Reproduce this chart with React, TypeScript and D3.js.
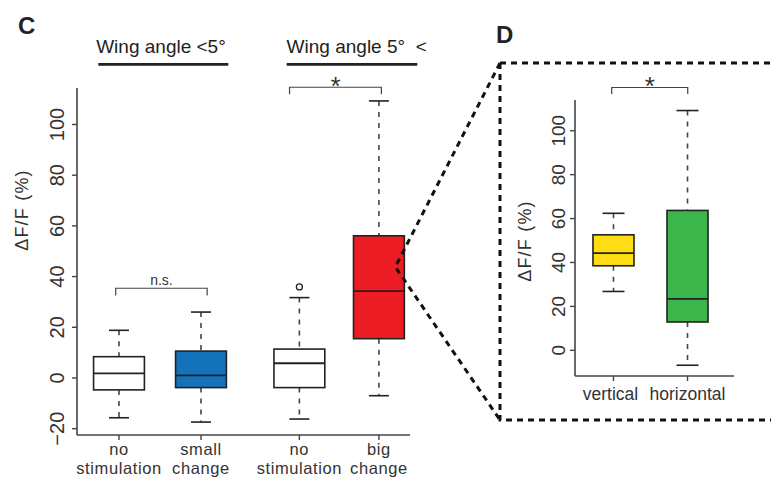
import React from "react";
import * as d3 from "d3";

// ---------- Panel C data ----------
const catsC = [["no", "stimulation"], ["small", "change"], ["no", "stimulation"], ["big", "change"]];
const posC = [1, 2, 3.2, 4.17];
const lowC = [-15.7, -17.4, -16.2, -7.0];
const q1C = [-4.7, -3.8, -3.8, 15.5];
const medC = [1.8, 1.0, 5.8, 34.3];
const q3C = [8.4, 10.6, 11.4, 56.1];
const highC = [18.8, 26.0, 31.7, 109.3];
const fillC = ["#ffffff", "#1372ba", "#ffffff", "#ec1c24"];
const outliersC = [{ idx: 2, value: 35.9 }];
const ticksC = [-20, 0, 20, 40, 60, 80, 100];
const groupsC = ["Wing angle <5°", "Wing angle 5°  <"];
const groupSpanC = [[0.748, 2.333], [3.045, 4.638]];

// ---------- Panel D data ----------
const catsD = ["vertical", "horizontal"];
const posD = [1, 2];
const lowD = [26.8, -6.8];
const q1D = [38.5, 12.9];
const medD = [44.3, 23.4];
const q3D = [52.6, 63.7];
const highD = [62.4, 109.2];
const fillD = ["#ffdd15", "#3cb54a"];
const ticksD = [0, 20, 40, 60, 80, 100];

const FONT = "'Liberation Sans', Arial, Helvetica, sans-serif";
const INK = "#222";
const AX = "#444";

type BoxProps = {
  x: d3.ScaleLinear<number, number>;
  y: d3.ScaleLinear<number, number>;
  pos: number; low: number; q1: number; med: number; q3: number; high: number;
  fill: string; bw: number; cw: number;
};

function Box({ x, y, pos, low, q1, med, q3, high, fill, bw, cw }: BoxProps) {
  const cx = x(pos);
  const hw = (x(pos + bw / 2) - x(pos - bw / 2)) / 2;
  return (
    <g>
      <line x1={cx} x2={cx} y1={y(high)} y2={y(q3)} stroke={AX} strokeWidth={1.6} strokeDasharray="5,6" />
      <line x1={cx} x2={cx} y1={y(q1)} y2={y(low)} stroke={AX} strokeWidth={1.6} strokeDasharray="5,6" />
      <line x1={cx - cw} x2={cx + cw} y1={y(high)} y2={y(high)} stroke={INK} strokeWidth={1.6} />
      <line x1={cx - cw} x2={cx + cw} y1={y(low)} y2={y(low)} stroke={INK} strokeWidth={1.6} />
      <rect x={cx - hw} y={y(q3)} width={2 * hw} height={y(q1) - y(q3)} fill={fill} stroke={INK} strokeWidth={1.6} />
      <line x1={cx - hw} x2={cx + hw} y1={y(med)} y2={y(med)} stroke={INK} strokeWidth={1.8} />
    </g>
  );
}

export default function App() {
  const xC = d3.scaleLinear().domain([0.488, 4.549]).range([77, 410]);
  const yC = d3.scaleLinear().domain([-22.5, 114.4]).range([435, 88]);
  const xD = d3.scaleLinear().domain([0.48, 2.628]).range([575, 734]);
  const yD = d3.scaleLinear().domain([-11.7, 114]).range([376, 100]);

  const zoomPt = [xC(4.37), yC(43.8)];

  return (
    <svg width={771} height={482} style={{ position: "absolute", left: 0, top: 0, background: "#fff" }} fontFamily={FONT}>
      {/* Panel letters */}
      <text x={18} y={34} fontSize={24} fontWeight="bold" fill={INK}>C</text>
      <text x={496} y={43} fontSize={24} fontWeight="bold" fill={INK}>D</text>

      {/* Group headers */}
      {groupsC.map((g, i) => (
        <g key={i}>
          <text x={i === 0 ? 161 : 356.7} y={53} fontSize={19} textAnchor="middle" fill={INK} style={{ whiteSpace: "pre" }}>{g}</text>
          <line x1={xC(groupSpanC[i][0])} x2={xC(groupSpanC[i][1])} y1={64.3} y2={64.3} stroke={INK} strokeWidth={2.8} />
        </g>
      ))}

      {/* Panel C axes */}
      <line x1={xC.range()[0]} x2={xC.range()[0]} y1={yC.range()[1]} y2={yC.range()[0]} stroke={AX} strokeWidth={1.6} />
      <line x1={xC.range()[0]} x2={xC.range()[1]} y1={yC.range()[0]} y2={yC.range()[0]} stroke={AX} strokeWidth={1.6} />
      {ticksC.map(t => (
        <g key={t}>
          <line x1={77 - 5} x2={77} y1={yC(t)} y2={yC(t)} stroke={AX} strokeWidth={1.4} />
          <text transform={`translate(57,${yC(t)}) rotate(-90)`} fontSize={20} textAnchor="middle" dominantBaseline="central" fill="#333">{t === -20 ? "\u221220" : t}</text>
        </g>
      ))}
      <text transform="translate(22,210) rotate(-90)" fontSize={18} letterSpacing={1.2} textAnchor="middle" dominantBaseline="central" fill="#333">ΔF/F (%)</text>
      {posC.map((p, i) => (
        <g key={i}>
          <line x1={xC(p)} x2={xC(p)} y1={435} y2={440} stroke={AX} strokeWidth={1.4} />
          <text x={xC(p)} y={454.5} fontSize={16.5} letterSpacing={0.6} textAnchor="middle" fill="#333">{catsC[i][0]}</text>
          <text x={xC(p)} y={473.8} fontSize={16.5} letterSpacing={0.6} textAnchor="middle" fill="#333">{catsC[i][1]}</text>
        </g>
      ))}
      {posC.map((p, i) => (
        <Box key={i} x={xC} y={yC} pos={p} low={lowC[i]} q1={q1C[i]} med={medC[i]} q3={q3C[i]} high={highC[i]} fill={fillC[i]} bw={0.62} cw={10} />
      ))}
      {outliersC.map((o, i) => (
        <circle key={i} cx={xC(posC[o.idx])} cy={yC(o.value)} r={3} fill="none" stroke={INK} strokeWidth={1.3} />
      ))}

      {/* significance C */}
      <path d={`M${xC(0.96)},${yC(32.5)}V${yC(35.4)}H${xC(2.075)}V${yC(32.5)}`} fill="none" stroke={AX} strokeWidth={1.2} />
      <text x={(xC(0.96) + xC(2.075)) / 2} y={yC(35.4) - 3} fontSize={14} textAnchor="middle" fill="#333">n.s.</text>
      <path d={`M${xC(3.08)},${yC(111.9)}V${yC(114.7)}H${xC(4.2)}V${yC(111.9)}`} fill="none" stroke={AX} strokeWidth={1.2} />
      <text x={(xC(3.08) + xC(4.2)) / 2} y={yC(114.7) + 7.5} fontSize={26} textAnchor="middle" fill="#333">*</text>

      {/* zoom lines & dotted frame */}
      <g fill="none" stroke="#111" strokeWidth={3} strokeDasharray="6,5">
        <path d={`M500,63 L${zoomPt[0]},${zoomPt[1]} L500,420`} />
        <path d="M500,63 H771" />
        <path d="M500,63 V420 H771" />
      </g>

      {/* Panel D axes */}
      <line x1={575} x2={575} y1={yD.range()[1]} y2={yD.range()[0]} stroke={AX} strokeWidth={1.6} />
      <line x1={575} x2={734} y1={376} y2={376} stroke={AX} strokeWidth={1.6} />
      {ticksD.map(t => (
        <g key={t}>
          <line x1={570} x2={575} y1={yD(t)} y2={yD(t)} stroke={AX} strokeWidth={1.4} />
          <text transform={`translate(558,${yD(t)}) rotate(-90)`} fontSize={19} textAnchor="middle" dominantBaseline="central" fill="#333">{t}</text>
        </g>
      ))}
      <text transform="translate(525,241) rotate(-90)" fontSize={18} letterSpacing={1.2} textAnchor="middle" dominantBaseline="central" fill="#333">ΔF/F (%)</text>
      {posD.map((p, i) => (
        <g key={i}>
          <line x1={xD(p)} x2={xD(p)} y1={376} y2={381} stroke={AX} strokeWidth={1.4} />
          <text x={xD(p) - (i === 0 ? 3 : 0)} y={400} fontSize={17.5} textAnchor="middle" fill="#333">{catsD[i]}</text>
        </g>
      ))}
      {posD.map((p, i) => (
        <Box key={i} x={xD} y={yD} pos={p} low={lowD[i]} q1={q1D[i]} med={medD[i]} q3={q3D[i]} high={highD[i]} fill={fillD[i]} bw={0.554} cw={11} />
      ))}
      <path d={`M${xD(0.976)},${yD(116.7)}V${yD(119.7)}H${xD(2.003)}V${yD(116.7)}`} fill="none" stroke={AX} strokeWidth={1.2} />
      <text x={(xD(0.976) + xD(2.003)) / 2} y={yD(119.7) + 7.5} fontSize={26} textAnchor="middle" fill="#333">*</text>
    </svg>
  );
}
